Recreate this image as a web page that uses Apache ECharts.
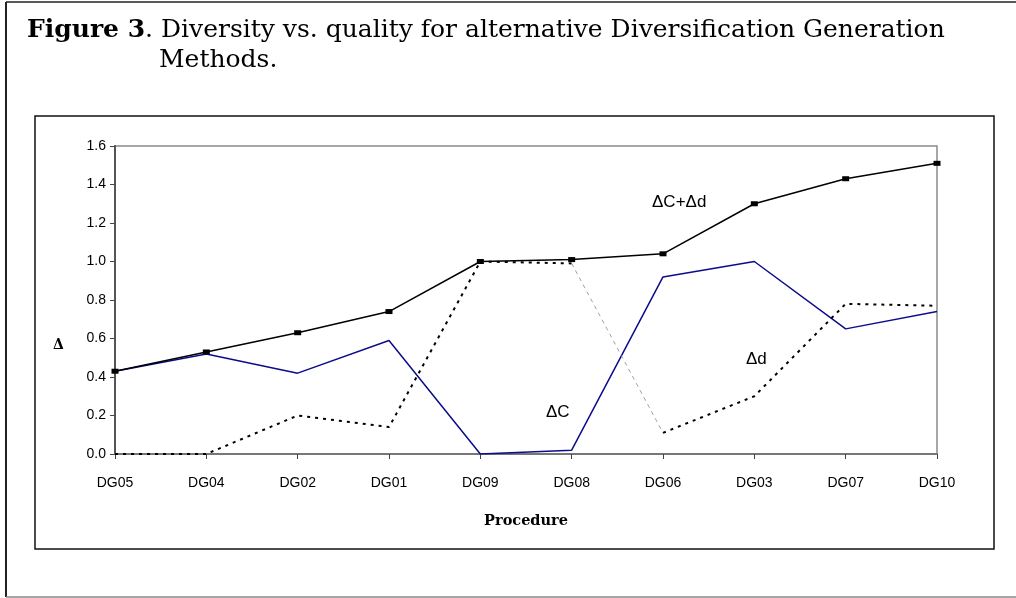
<!DOCTYPE html>
<html>
<head>
<meta charset="utf-8">
<style>
  html, body { margin: 0; padding: 0; background: #fff; }
  #chart { width: 1016px; height: 598px; }
</style>
<script src="https://cdn.jsdelivr.net/npm/echarts@6/dist/echarts.min.js"></script>
</head>
<body>
<div id="chart"></div>
<script>
// data
const procedures = ['DG05', 'DG04', 'DG02', 'DG01', 'DG09', 'DG08', 'DG06', 'DG03', 'DG07', 'DG10'];
const deltaC = [0.43, 0.52, 0.42, 0.59, 0.00, 0.02, 0.92, 1.00, 0.65, 0.74];
const deltaD = [0.00, 0.00, 0.20, 0.14, 1.00, 0.99, 0.11, 0.30, 0.78, 0.77];
const deltaSum = [0.43, 0.53, 0.63, 0.74, 1.00, 1.01, 1.04, 1.30, 1.43, 1.51];
const yTicks = [0, 0.2, 0.4, 0.6, 0.8, 1.0, 1.2, 1.4, 1.6];

// the DG08 -> DG06 stretch of the Δd line is drawn thin and grey in the original
const dPartA = deltaD.map((v, i) => (i <= 5 ? v : null));
const dPartB = deltaD.map((v, i) => (i >= 6 ? v : null));
const dThin = deltaD.map((v, i) => (i === 5 || i === 6 ? v : null));

const chart = echarts.init(document.getElementById('chart'));

const sans = 'Liberation Sans, Arial, sans-serif';
const serif = 'DejaVu Serif, serif';

chart.setOption({
  animation: false,
  grid: {
    left: 115, top: 146, right: 79, bottom: 144,
    show: true, borderColor: '#8a8a8a', borderWidth: 1.5
  },
  xAxis: {
    type: 'category',
    data: procedures,
    boundaryGap: false,
    axisLine: { lineStyle: { color: '#777', width: 2 } },
    axisTick: { show: true, length: 5, lineStyle: { color: '#444' } },
    axisLabel: { color: '#000', fontFamily: sans, fontSize: 14, margin: 22 },
    splitLine: { show: false },
    name: 'Procedure',
    nameLocation: 'middle',
    nameGap: 60,
    nameTextStyle: { fontFamily: serif, fontWeight: 'bold', fontSize: 14.5, color: '#000' }
  },
  yAxis: {
    type: 'value',
    min: yTicks[0],
    max: yTicks[yTicks.length - 1],
    interval: 0.2,
    axisLine: { show: true, lineStyle: { color: '#555', width: 2 } },
    axisTick: { show: true, length: 5, lineStyle: { color: '#444' } },
    axisLabel: {
      color: '#000', fontFamily: sans, fontSize: 14, margin: 9,
      formatter: v => v.toFixed(1)
    },
    splitLine: { show: false }
  },
  series: [
    {
      name: 'ΔC',
      type: 'line',
      data: deltaC,
      symbol: 'none',
      lineStyle: { color: '#0c0c8a', width: 1.5 }
    },
    {
      name: 'Δd',
      type: 'line',
      data: dPartA,
      symbol: 'none',
      lineStyle: { color: '#000', width: 2, type: [3, 5] }
    },
    {
      name: 'Δd',
      type: 'line',
      data: dPartB,
      symbol: 'none',
      lineStyle: { color: '#000', width: 2, type: [3, 5] }
    },
    {
      name: 'Δd',
      type: 'line',
      data: dThin,
      symbol: 'none',
      lineStyle: { color: '#888', width: 0.8, type: [4, 4] }
    },
    {
      name: 'ΔC+Δd',
      type: 'line',
      data: deltaSum,
      symbol: 'rect',
      symbolSize: [7, 5],
      itemStyle: { color: '#000' },
      lineStyle: { color: '#000', width: 1.5 }
    }
  ],
  graphic: [
    // outer figure frame
    { type: 'line', shape: { x1: 6, y1: 2, x2: 1016, y2: 2 }, style: { stroke: '#222', lineWidth: 1.5 } },
    { type: 'line', shape: { x1: 6, y1: 2, x2: 6, y2: 597 }, style: { stroke: '#222', lineWidth: 2 } },
    { type: 'line', shape: { x1: 6, y1: 597, x2: 1016, y2: 597 }, style: { stroke: '#888', lineWidth: 1.5 } },
    // chart box
    { type: 'rect', shape: { x: 35, y: 116, width: 959, height: 433 }, style: { fill: 'none', stroke: '#111', lineWidth: 1.5 }, z: -1 },
    // caption
    {
      type: 'text', left: 27, top: 18,
      style: {
        text: '{b|Figure 3}. Diversity vs. quality for alternative Diversification Generation',
        font: '25px DejaVu Serif', fill: '#000',
        rich: { b: { fontFamily: serif, fontWeight: 'bold', fontSize: 25, fill: '#000' } }
      }
    },
    {
      type: 'text', left: 159, top: 48,
      style: { text: 'Methods.', font: '25px DejaVu Serif', fill: '#000' }
    },
    // y axis title
    { type: 'text', left: 53, top: 338, style: { text: 'Δ', font: 'bold 14px DejaVu Serif', fill: '#000' } },
    // in-plot labels
    { type: 'text', left: 652, top: 194, style: { text: 'ΔC+Δd', font: '17px Liberation Sans', fill: '#000' } },
    { type: 'text', left: 746, top: 351, style: { text: 'Δd', font: '17px Liberation Sans', fill: '#000' } },
    { type: 'text', left: 546, top: 404, style: { text: 'ΔC', font: '17px Liberation Sans', fill: '#000' } }
  ]
});
</script>
</body>
</html>
